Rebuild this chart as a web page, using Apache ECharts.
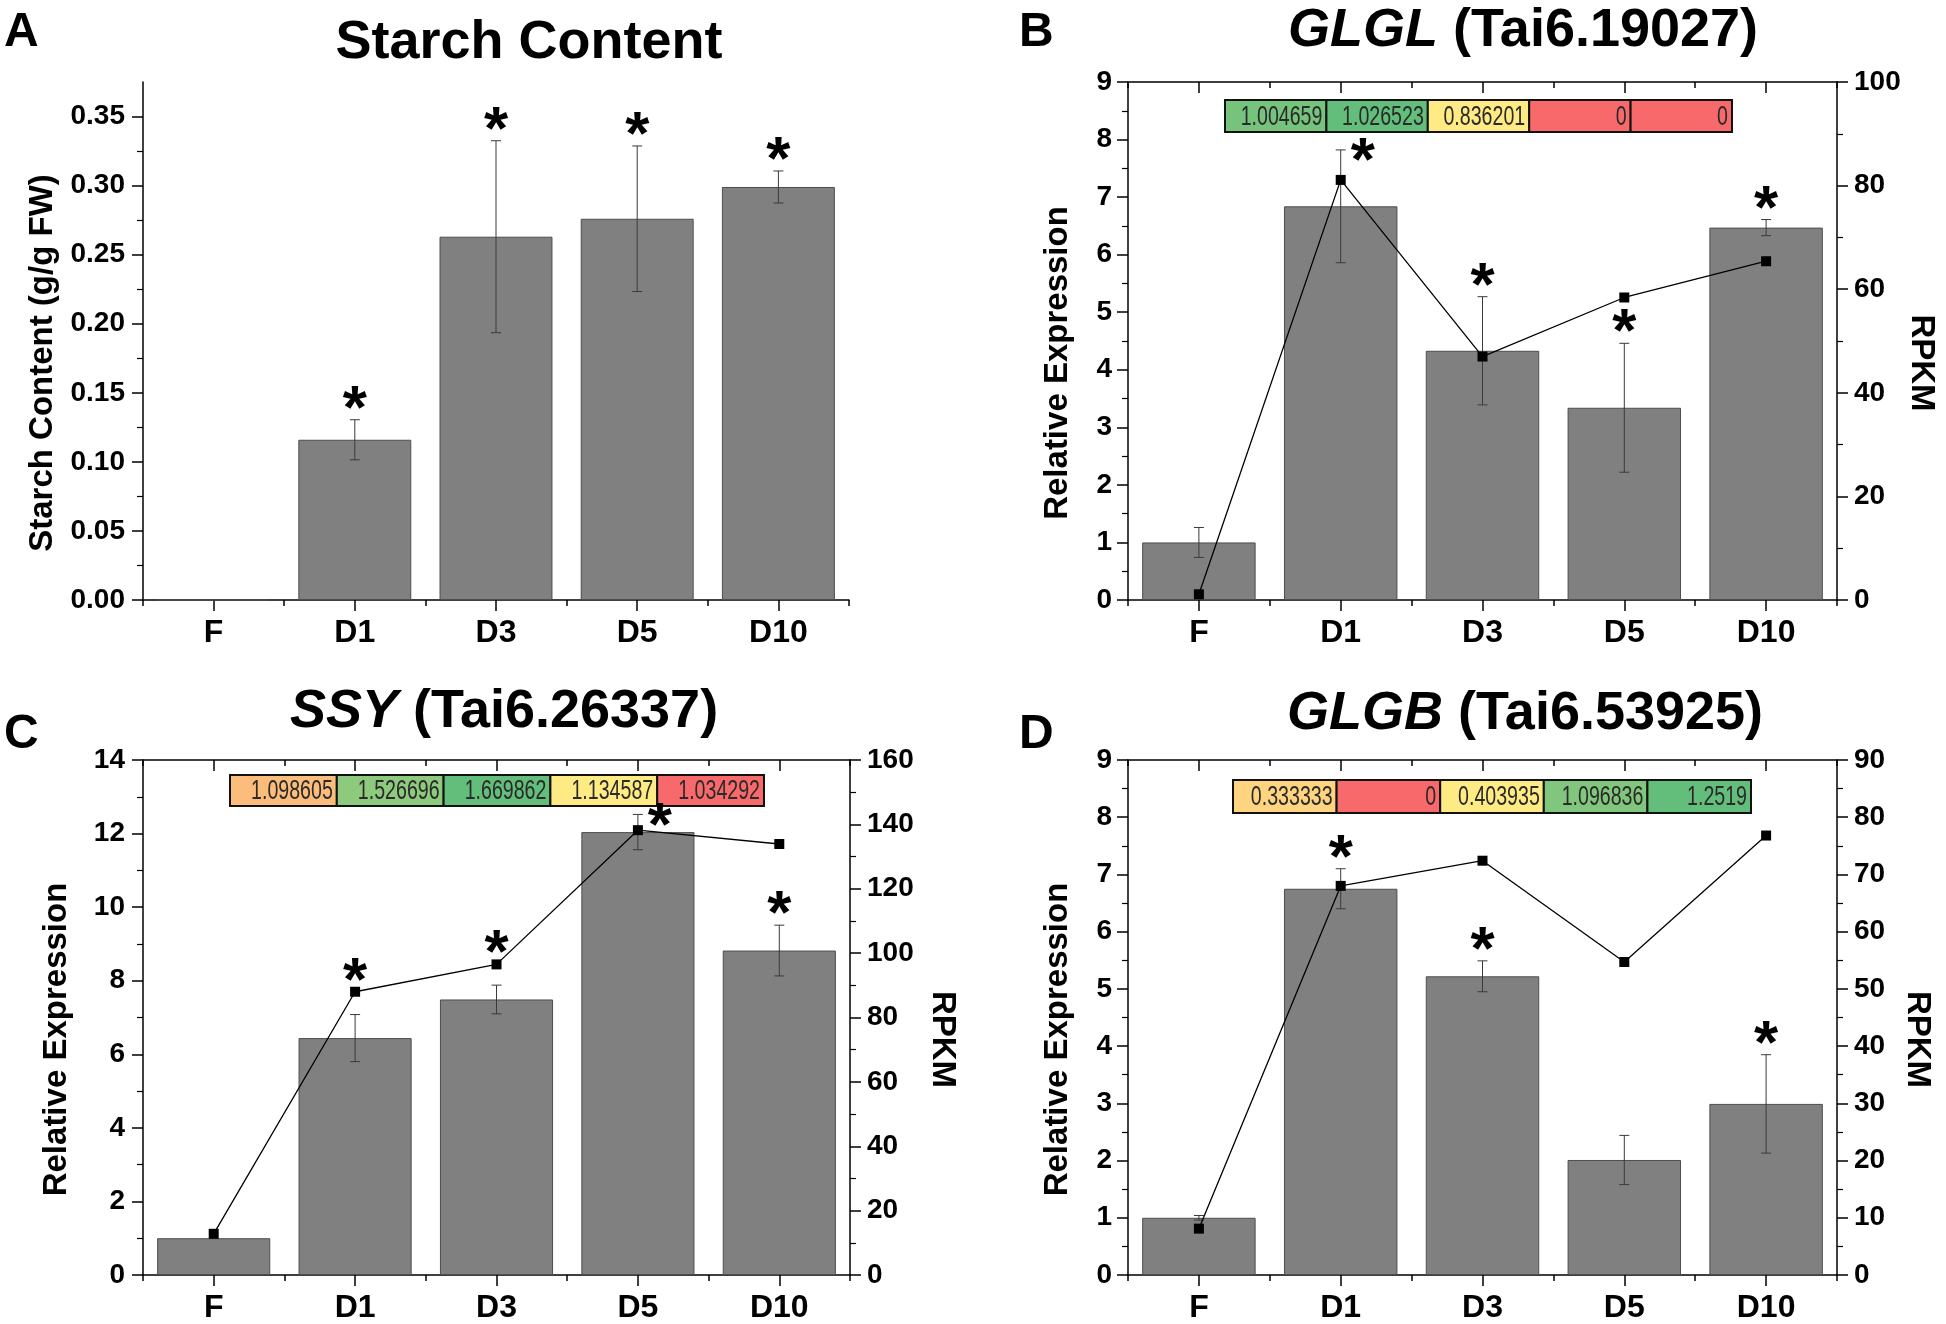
<!DOCTYPE html>
<html>
<head>
<meta charset="utf-8">
<script src="https://cdn.jsdelivr.net/npm/echarts@6/dist/echarts.min.js"></script>
<style>
  html, body { margin: 0; padding: 0; background: #fff; }
  #chart { width: 1946px; height: 1324px; }
</style>
</head>
<body>
<div id="chart"></div>
<script>
// ---- data ----
const categories = ["F", "D1", "D3", "D5", "D10"]

// A: starch content (g/g FW)
const starchMean = [0, 0.116, 0.263, 0.276, 0.299]
const starchErr = [0, 0.0145, 0.0695, 0.0527, 0.0116]
const starchStars = ["", "top", "top", "top", "top"]
const starchTicks = [0, 0.05, 0.1, 0.15, 0.2, 0.25, 0.3, 0.35]
const starchAxisMax = 0.375

// B: GLGL (Tai6.19027)
const glglRel = [1.0, 6.84, 4.33, 3.34, 6.47]
const glglErr = [0.26, 0.98, 0.94, 1.12, 0.14]
const glglRpkm = [1.1, 81.1, 47.0, 58.4, 65.4]
const glglFold = [1.004659, 1.026523, 0.836201, 0, 0]
const glglStars = ["", "side", "top", "top", "top"]

// C: SSY (Tai6.26337)
const ssyRel = [1.0, 6.44, 7.49, 12.04, 8.82]
const ssyErr = [0, 0.64, 0.39, 0.48, 0.69]
const ssyRpkm = [12.8, 88.0, 96.5, 138.2, 133.9]
const ssyFold = [1.098605, 1.526696, 1.669862, 1.134587, 1.034292]
const ssyStars = ["", "line", "line", "side", "top"]

// D: GLGB (Tai6.53925)
const glgbRel = [1.0, 6.75, 5.22, 2.01, 2.99]
const glgbErr = [0.04, 0.35, 0.27, 0.43, 0.86]
const glgbRpkm = [8.1, 68.0, 72.4, 54.7, 76.8]
const glgbFold = [0.333333, 0, 0.403935, 1.096836, 1.2519]
const glgbStars = ["", "top", "top", "", "top"]

const relTicks9 = [0, 1, 2, 3, 4, 5, 6, 7, 8, 9]
const relTicks14 = [0, 2, 4, 6, 8, 10, 12, 14]
const rpkmTicks100 = [0, 20, 40, 60, 80, 100]
const rpkmTicks160 = [0, 20, 40, 60, 80, 100, 120, 140, 160]
const rpkmTicks90 = [0, 10, 20, 30, 40, 50, 60, 70, 80, 90]

// ---- style ----
const FONT = "'Liberation Sans', Arial, Helvetica, sans-serif"
const BAR_COLOR = "#808080"
const RED = [248, 105, 107]
const YELLOW = [255, 235, 132]
const GREEN = [99, 190, 123]
const STAR_SIZE = 62
const STAR_SHIFT = 13

const axisLineStyle = { color: "#000", width: 1.5 }

const grids = []
const xAxes = []
const yAxes = []
const series = []

// excel-like 3 colour scale (min red, median yellow, max green)
const scaleColor = (v, arr) => {
  const s = arr.slice().sort((a, b) => a - b)
  const lo = s[0]
  const hi = s[s.length - 1]
  const mid = s[Math.floor(s.length / 2)]
  let a, b, t
  if (v <= mid) {
    a = RED; b = YELLOW; t = mid === lo ? 1 : (v - lo) / (mid - lo)
  } else {
    a = YELLOW; b = GREEN; t = (v - mid) / (hi - mid)
  }
  const c = a.map((x, k) => Math.round(x + (b[k] - x) * t))
  return "rgb(" + c.join(",") + ")"
}

const valueAxis = (gi, pos, ticks, max, decimals, name, nameGap, margin, customTicks) => {
  const step = ticks[1] - ticks[0]
  const axis = {
    type: "value",
    gridIndex: gi,
    position: pos,
    min: 0,
    max: max,
    interval: step,
    splitLine: { show: false },
    axisLine: { show: true, lineStyle: axisLineStyle },
    axisTick: { show: true, length: 11, lineStyle: axisLineStyle },
    minorTick: { show: true, splitNumber: 2, length: 6, lineStyle: { color: "#000", width: 1.2 } },
    axisLabel: {
      margin: margin,
      color: "#000",
      fontFamily: FONT,
      fontWeight: "bold",
      fontSize: 28,
      formatter: v => ticks.some(t => Math.abs(t - v) < 1e-9) ? v.toFixed(decimals) : ""
    },
    name: name,
    nameLocation: "middle",
    nameGap: nameGap,
    nameRotate: pos === "right" ? -90 : 90,
    nameTextStyle: {
      color: "#000",
      fontFamily: FONT,
      fontWeight: "bold",
      fontSize: 33,
      padding: pos === "right" ? [0, 0, 0, 44] : [0, 44, 0, 0]
    }
  }
  if (customTicks) {
    axis.axisTick.customValues = ticks
    axis.axisLabel.customValues = ticks
  }
  return axis
}

const catAxis = (gi, pos, centre, len, labels, inside) => ({
  type: "category",
  gridIndex: gi,
  data: categories,
  position: pos,
  axisLine: { show: centre, lineStyle: axisLineStyle },
  axisTick: { show: true, inside: inside, alignWithLabel: centre, length: len, lineStyle: axisLineStyle },
  axisLabel: labels
    ? { margin: 17, color: "#000", fontFamily: FONT, fontWeight: "bold", fontSize: 32 }
    : { show: false },
  splitLine: { show: false }
})

const errorSeries = (xi, yi, mean, err) => ({
  type: "custom",
  xAxisIndex: xi,
  yAxisIndex: yi,
  z: 3,
  silent: true,
  data: mean.map((m, i) => [i, m - err[i], m + err[i]]).filter((d, i) => err[i] > 0),
  renderItem: (params, api) => {
    const lo = api.coord([api.value(0), api.value(1)])
    const hi = api.coord([api.value(0), api.value(2)])
    const w = 5
    const style = { stroke: "#3a3a3a", lineWidth: 1 }
    return {
      type: "group",
      children: [
        { type: "line", shape: { x1: lo[0], y1: lo[1], x2: hi[0], y2: hi[1] }, style: style },
        { type: "line", shape: { x1: lo[0] - w, y1: lo[1], x2: lo[0] + w, y2: lo[1] }, style: style },
        { type: "line", shape: { x1: hi[0] - w, y1: hi[1], x2: hi[0] + w, y2: hi[1] }, style: style }
      ]
    }
  }
})

const starSeries = (xi, yi, mean, err, stars, rpkm, ratio) => ({
  type: "custom",
  xAxisIndex: xi,
  yAxisIndex: yi,
  z: 6,
  silent: true,
  data: stars
    .map((s, i) => {
      if (!s) return null
      const anchor = s === "line" ? rpkm[i] * ratio : mean[i] + err[i]
      return [i, anchor, s === "side" ? 1 : 0]
    })
    .filter(d => d),
  renderItem: (params, api) => {
    const p = api.coord([api.value(0), api.value(1)])
    const side = api.value(2) === 1
    return {
      type: "text",
      x: side ? p[0] + 22 : p[0],
      y: (side ? p[1] : p[1] - 22) + STAR_SHIFT,
      style: {
        text: "*",
        fontSize: STAR_SIZE,
        fontWeight: "bold",
        fontFamily: FONT,
        fill: "#000",
        align: "center",
        verticalAlign: "middle"
      }
    }
  }
})

const stripPanel = (box, fold) => {
  const gi = grids.length
  grids.push(box)
  const xi = xAxes.length
  xAxes.push({ type: "category", gridIndex: gi, data: categories, show: false })
  const yi = yAxes.length
  yAxes.push({ type: "category", gridIndex: gi, data: [""], show: false })
  series.push({
    type: "custom",
    xAxisIndex: xi,
    yAxisIndex: yi,
    silent: true,
    data: fold.map((v, i) => [i, 0, v]),
    renderItem: (params, api) => {
      const c = api.coord([api.value(0), 0])
      const s = api.size([1, 1])
      const v = api.value(2)
      const x0 = c[0] - s[0] / 2
      const y0 = c[1] - s[1] / 2
      return {
        type: "group",
        children: [
          {
            type: "rect",
            shape: { x: x0, y: y0, width: s[0], height: s[1] },
            style: { fill: scaleColor(v, fold), stroke: "#111", lineWidth: 2 }
          },
          {
            // condensed look, like the spreadsheet font
            type: "text",
            x: x0 + s[0] - 4,
            y: c[1] + 1,
            scaleX: 0.7,
            style: {
              text: String(v),
              fontSize: 28,
              fontFamily: FONT,
              fill: "#2a2a2a",
              align: "right",
              verticalAlign: "middle"
            }
          }
        ]
      }
    }
  })
}

// one bar/line panel
const buildPanel = p => {
  const gi = grids.length
  grids.push(p.box)
  const xi = xAxes.length
  xAxes.push(catAxis(gi, "bottom", true, 11, true, false))
  xAxes.push(catAxis(gi, "bottom", false, 6, false, false))
  if (p.frame) {
    xAxes.push(catAxis(gi, "top", true, 11, false, true))
    xAxes.push(catAxis(gi, "top", false, 6, false, true))
  }
  const yl = yAxes.length
  yAxes.push(valueAxis(gi, "left", p.leftTicks, p.leftMax, p.leftDecimals, p.leftName, p.leftGap, p.leftMargin, p.customTicks))
  let yr = -1
  if (p.rpkm) {
    yr = yAxes.length
    yAxes.push(valueAxis(gi, "right", p.rightTicks, p.rightMax, 0, "RPKM", p.rightGap, 17, false))
  }
  series.push({
    type: "bar",
    xAxisIndex: xi,
    yAxisIndex: yl,
    data: p.mean,
    barWidth: "80%",
    z: 2,
    itemStyle: { color: BAR_COLOR, borderColor: "#4d4d4d", borderWidth: 1 }
  })
  series.push(errorSeries(xi, yl, p.mean, p.err))
  if (p.rpkm) {
    series.push({
      type: "line",
      xAxisIndex: xi,
      yAxisIndex: yr,
      data: p.rpkm,
      z: 4,
      symbol: "rect",
      symbolSize: 10,
      itemStyle: { color: "#000" },
      lineStyle: { color: "#000", width: 1.3 }
    })
  }
  const ratio = p.rpkm ? p.leftMax / p.rightMax : 1
  series.push(starSeries(xi, yl, p.mean, p.err, p.stars, p.rpkm, ratio))
}

buildPanel({
  box: { left: 143, top: 82, width: 706, height: 518 },
  frame: false,
  mean: starchMean, err: starchErr, stars: starchStars,
  leftTicks: starchTicks, leftMax: starchAxisMax, leftDecimals: 2, customTicks: true,
  leftName: "Starch Content (g/g FW)", leftGap: 84, leftMargin: 18
})

buildPanel({
  box: { left: 1128, top: 82, width: 709, height: 518 },
  frame: true,
  mean: glglRel, err: glglErr, stars: glglStars, rpkm: glglRpkm,
  leftTicks: relTicks9, leftMax: relTicks9[relTicks9.length - 1], leftDecimals: 0,
  leftName: "Relative Expression", leftGap: 54, leftMargin: 16,
  rightTicks: rpkmTicks100, rightMax: rpkmTicks100[rpkmTicks100.length - 1], rightGap: 66
})

buildPanel({
  box: { left: 143, top: 760, width: 707, height: 518 },
  frame: true,
  mean: ssyRel, err: ssyErr, stars: ssyStars, rpkm: ssyRpkm,
  leftTicks: relTicks14, leftMax: relTicks14[relTicks14.length - 1], leftDecimals: 0,
  leftName: "Relative Expression", leftGap: 70, leftMargin: 18,
  rightTicks: rpkmTicks160, rightMax: rpkmTicks160[rpkmTicks160.length - 1], rightGap: 76
})

buildPanel({
  box: { left: 1128, top: 760, width: 709, height: 518 },
  frame: true,
  mean: glgbRel, err: glgbErr, stars: glgbStars, rpkm: glgbRpkm,
  leftTicks: relTicks9, leftMax: relTicks9[relTicks9.length - 1], leftDecimals: 0,
  leftName: "Relative Expression", leftGap: 54, leftMargin: 16,
  rightTicks: rpkmTicks90, rightMax: rpkmTicks90[rpkmTicks90.length - 1], rightGap: 64
})

stripPanel({ left: 1225, top: 100, width: 507, height: 32 }, glglFold)
stripPanel({ left: 230, top: 775, width: 534, height: 31 }, ssyFold)
stripPanel({ left: 1233, top: 780, width: 518, height: 33 }, glgbFold)

const titleText = (x, y, text) => ({
  type: "text",
  x: x,
  y: y,
  style: {
    text: text,
    fontSize: 54,
    fontWeight: "bold",
    fontFamily: FONT,
    fill: "#000",
    align: "center",
    verticalAlign: "top",
    rich: {
      i: { fontSize: 54, fontWeight: "bold", fontStyle: "italic", fontFamily: FONT, fill: "#000" }
    }
  }
})

const letter = (x, y, text) => ({
  type: "text",
  x: x,
  y: y,
  style: { text: text, fontSize: 48, fontWeight: "bold", fontFamily: FONT, fill: "#000" }
})

const chart = echarts.init(document.getElementById("chart"))

chart.setOption({
  animation: false,
  backgroundColor: "#fff",
  grid: grids,
  xAxis: xAxes,
  yAxis: yAxes,
  series: series,
  graphic: [
    titleText(529, 16, "Starch Content"),
    titleText(1523, 4, "{i|GLGL} (Tai6.19027)"),
    titleText(504, 685, "{i|SSY} (Tai6.26337)"),
    titleText(1525, 687, "{i|GLGB} (Tai6.53925)"),
    letter(4, 9, "A"),
    letter(1019, 9, "B"),
    letter(4, 711, "C"),
    letter(1019, 711, "D")
  ]
})

window.addEventListener("resize", () => chart.resize())
</script>
</body>
</html>
